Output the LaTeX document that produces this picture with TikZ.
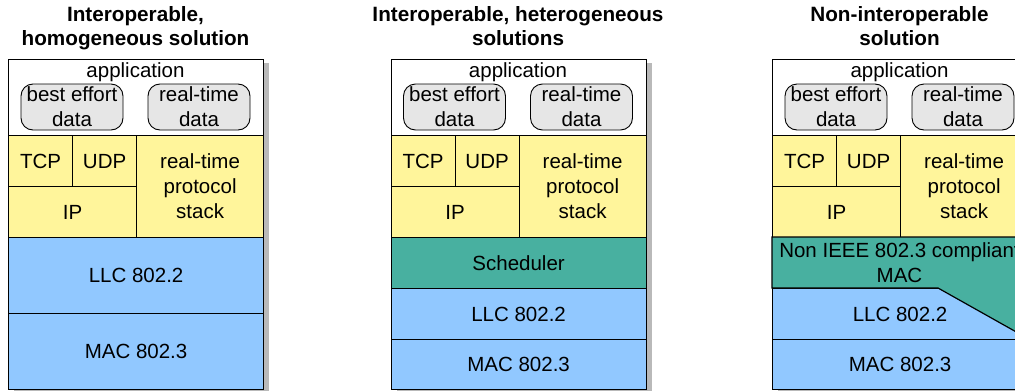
\documentclass[tikz,border=0pt]{standalone}
\usepackage{fontspec}
\setmainfont{Liberation Sans}
\definecolor{yellowc}{RGB}{255,245,155}
\definecolor{bluec}{RGB}{145,200,255}
\definecolor{tealc}{RGB}{72,176,160}
\definecolor{grayc}{RGB}{230,230,230}
\definecolor{shadowc}{RGB}{185,185,185}
\newcommand\bodyfnt{\fontsize{20.5}{25}\selectfont}
\newcommand\titlefnt{\fontsize{20.7}{23.5}\selectfont\bfseries}
\tikzset{
  cell/.style={draw=black, line width=1.2pt, anchor=north west, inner sep=0pt,
               align=center, font=\bodyfnt},
  ycell/.style={cell, fill=yellowc},
  bcell/.style={cell, fill=bluec},
  tcell/.style={cell, fill=tealc},
  databox/.style={draw=black, line width=0.9pt, fill=grayc, rounded corners=12pt,
                  minimum width=102pt, minimum height=46pt, inner sep=0pt,
                  align=center, font=\bodyfnt},
  txt/.style={inner sep=0pt, font=\bodyfnt, align=center},
  ttl/.style={inner sep=0pt, font=\titlefnt, align=center},
  shadowbox/.style={fill=shadowc}
}
% common upper part of a stack: #1 = x offset, #2 = name prefix
\newcommand\upperstack[2]{%
  \begin{scope}[xshift=#1pt]
    \fill[shadowbox] (6,63) rectangle (261,395);
    \node[cell, fill=white, minimum width=255pt, minimum height=76pt] (#2app) at (0,59) {};
    \node[txt, anchor=base] (#2apptxt) at (127.5,77) {application};
    \node[databox] (#2be) at (64,107) {best effort\\data};
    \node[databox] (#2rtd) at (191,107) {real-time\\data};
    \node[ycell, minimum width=64pt, minimum height=51pt] (#2tcp) at (0,135) {TCP};
    \node[ycell, minimum width=64pt, minimum height=51pt] (#2udp) at (64,135) {UDP};
    \node[ycell, minimum width=128pt, minimum height=51pt] (#2ip) at (0,186) {IP};
    \node[ycell, minimum width=127pt, minimum height=102pt] (#2rtp) at (128,135) {real-time\\protocol\\stack};
  \end{scope}}
\begin{document}
\begin{tikzpicture}[x=1pt, y=-1pt]
  \useasboundingbox (0,0) rectangle (1015,391);
  \clip (0,0) rectangle (1015,391);
  % titles
  \node[ttl] (t1) at (135.5,28.6) {\strut Interoperable,\\\strut homogeneous solution};
  \node[ttl] (t2) at (518,28.6) {\strut Interoperable, heterogeneous\\\strut solutions};
  \node[ttl] (t3) at (899.5,28.6) {\strut Non-interoperable\\\strut solution};
  % stack 1
  \upperstack{8}{a}
  \begin{scope}[xshift=8pt]
    \node[bcell, minimum width=255pt, minimum height=76pt] (allc) at (0,237) {LLC 802.2};
    \node[bcell, minimum width=255pt, minimum height=76pt] (amac) at (0,313) {MAC 802.3};
  \end{scope}
  % stack 2
  \upperstack{390.5}{b}
  \begin{scope}[xshift=390.5pt]
    \node[tcell, minimum width=255pt, minimum height=51pt] (bsch) at (0,237) {Scheduler};
    \node[bcell, minimum width=255pt, minimum height=51pt] (bllc) at (0,288) {LLC 802.2};
    \node[bcell, minimum width=255pt, minimum height=50pt] (bmac) at (0,339) {MAC 802.3};
  \end{scope}
  % stack 3
  \upperstack{772}{c}
  \begin{scope}[xshift=772pt]
    \node[bcell, minimum width=255pt, minimum height=51pt] (cllc) at (0,288) {LLC 802.2};
    \filldraw[fill=tealc, draw=black, line width=1.2pt]
      (0,237) -- (255,237) -- (255,338) -- (166,288) -- (0,288) -- cycle;
    \node[txt] (cnon) at (127.5,262.5) {Non IEEE 802.3 compliant\\MAC};
    \node[bcell, minimum width=255pt, minimum height=50pt] (cmac) at (0,339) {MAC 802.3};
  \end{scope}
\end{tikzpicture}
\end{document}
